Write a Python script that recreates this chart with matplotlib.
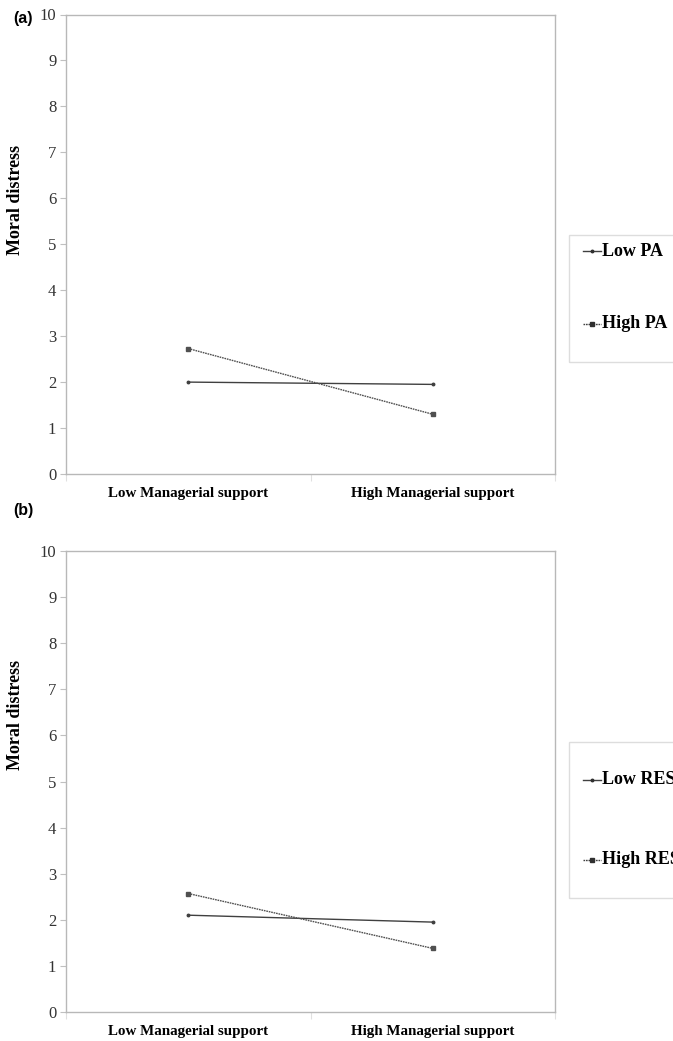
import matplotlib.pyplot as plt

# donnees
categories = ['Low Managerial support', 'High Managerial support']
low_pa = [2.0, 1.95]
high_pa = [2.73, 1.3]
low_res = [2.1, 1.95]
high_res = [2.57, 1.38]
yticks = list(range(0, 11))

plt.rcParams['font.family'] = ['Liberation Serif', 'DejaVu Serif']

fig = plt.figure(figsize=(6.73, 10.41), dpi=100)
W, H = 673, 1041


def panneau(box, lettre, lettre_xy, serie_basse, serie_haute, noms, leg_box,
            leg_y, label_y):
    l, t, r, b = box
    ax = fig.add_axes([l / W, 1 - b / H, (r - l) / W, (b - t) / H])
    x = [0.5, 1.5]
    ax.plot(x, serie_basse, color='#404040', lw=1.0, marker='o', ms=1.8,
            label=noms[0])
    ax.plot(x, serie_haute, color='#505050', lw=1.0, ls=(0, (1.2, 0.6)),
            marker='s', ms=2.2, label=noms[1])
    ax.set_xlim(0, 2)
    ax.set_ylim(0, 10)
    ax.set_yticks(yticks)
    ax.set_xticks([0, 1, 2])
    ax.set_xticklabels([])
    ax.set_xticks(x, minor=True)
    ax.set_xticklabels(categories, minor=True, fontsize=10.8, fontweight='bold')
    ax.tick_params(axis='x', which='minor', length=0, pad=9)
    ax.tick_params(axis='x', which='major', length=5, color='#e0e0e0', direction='out')
    ax.tick_params(axis='y', length=4, color='#c0c0c0', labelsize=12,
                   labelcolor='#333333', pad=3)
    for s in ax.spines.values():
        s.set_color('#b8b8b8')
        s.set_linewidth(1.0)
    ax.set_ylabel('Moral distress', fontsize=13, fontweight='bold')
    ax.yaxis.set_label_coords(-0.086, label_y)

    fig.text(lettre_xy[0] / W, 1 - lettre_xy[1] / H, lettre,
             family='Liberation Sans', fontweight='bold', fontsize=11.5,
             va='center', ha='left')

    # boite de legende (coupee a droite comme sur l'original)
    lx0, ly0, lx1, ly1 = leg_box
    cadre = plt.Rectangle((lx0 / W, 1 - ly1 / H), (lx1 - lx0) / W, (ly1 - ly0) / H,
                          transform=fig.transFigure, fill=False,
                          edgecolor='#dddddd', lw=1.0)
    fig.add_artist(cadre)
    styles = [('-', 'o', 1.8), ((0, (1.2, 0.6)), 's', 2.2)]
    for nom, yy, (ls, mk, ms) in zip(noms, leg_y, styles):
        fy = 1 - yy / H
        fig.add_artist(plt.Line2D([(lx0 + 14) / W, (lx0 + 32) / W], [fy, fy],
                                  transform=fig.transFigure, color='#404040',
                                  lw=1.0, ls=ls))
        fig.add_artist(plt.Line2D([(lx0 + 23) / W], [fy], transform=fig.transFigure,
                                  color='#303030', marker=mk, ms=ms, lw=0))
        fig.text((lx0 + 33) / W, fy, nom, fontsize=13, fontweight='bold',
                 va='center', ha='left')


panneau((66, 14.5, 555, 474), '(a)', (13, 18), low_pa, high_pa,
        ['Low PA', 'High PA'], (569, 235, 690, 362), (251, 324), 0.596)
panneau((66, 551, 555, 1012), '(b)', (13, 511), low_res, high_res,
        ['Low RES', 'High RES'], (569, 742, 690, 898), (780, 860), 0.644)

fig.savefig('out.png', dpi=100, facecolor='white')
